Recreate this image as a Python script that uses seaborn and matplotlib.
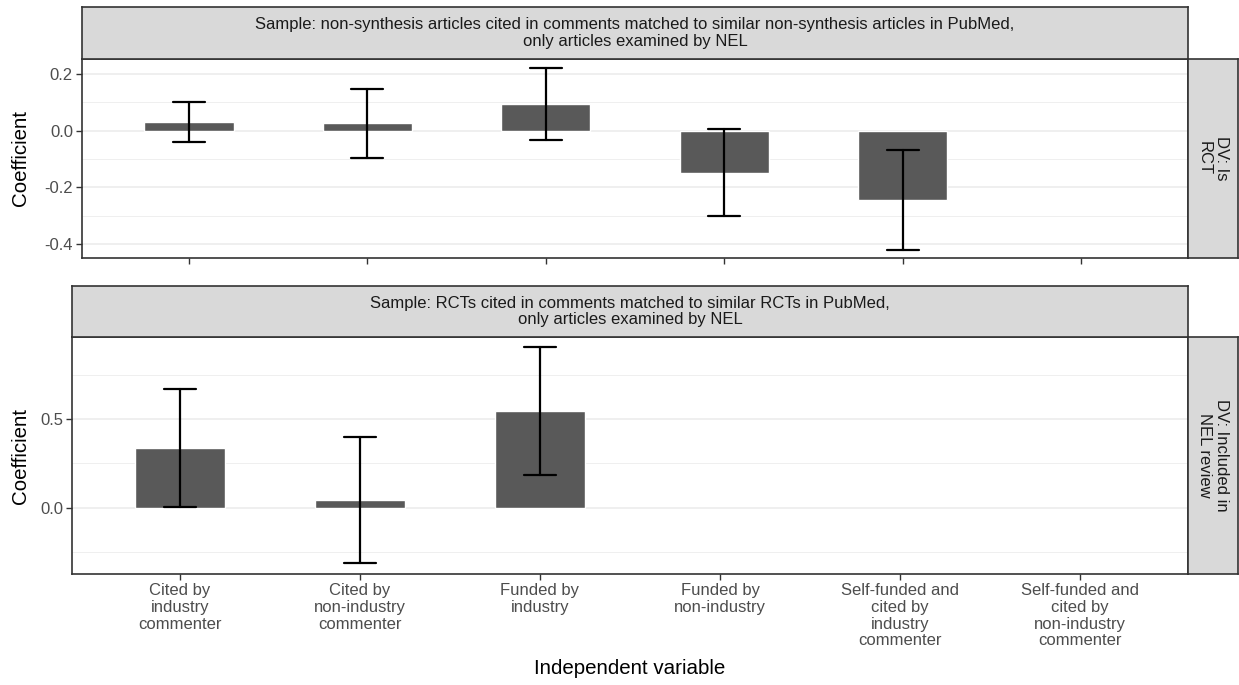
import numpy as np
import pandas as pd
import matplotlib
matplotlib.use("Agg")
import matplotlib.pyplot as plt
import seaborn as sns

# ---------------- data ----------------
categories = [
    "Cited by\nindustry\ncommenter",
    "Cited by\nnon-industry\ncommenter",
    "Funded by\nindustry",
    "Funded by\nnon-industry",
    "Self-funded and\ncited by\nindustry\ncommenter",
    "Self-funded and\ncited by\nnon-industry\ncommenter",
]

# Panel 1: DV = Is RCT
rct_cats = categories[:5]
rct_coef = [0.031, 0.027, 0.094, -0.148, -0.243]
rct_lo = [-0.039, -0.096, -0.034, -0.300, -0.420]
rct_hi = [0.100, 0.148, 0.220, 0.006, -0.067]

# Panel 2: DV = Included in NEL review
nel_cats = categories[:3]
nel_coef = [0.337, 0.042, 0.545]
nel_lo = [0.006, -0.314, 0.184]
nel_hi = [0.668, 0.397, 0.906]

top_strip = ("Sample: non-synthesis articles cited in comments matched to similar non-synthesis articles in PubMed,\n"
             "only articles examined by NEL")
bot_strip = ("Sample: RCTs cited in comments matched to similar RCTs in PubMed,\n"
             "only articles examined by NEL")
top_right = "DV: Is\nRCT"
bot_right = "DV: Included in\nNEL review"

top_ylim = (-0.448, 0.252)
top_major = [-0.4, -0.2, 0.0, 0.2]
top_minor = [-0.3, -0.1, 0.1]
bot_ylim = (-0.374, 0.964)
bot_major = [0.0, 0.5]
bot_minor = [-0.25, 0.25, 0.75]

# ---------------- style ----------------
sns.set_theme(style="white")
plt.rcParams["font.family"] = ["Liberation Sans", "DejaVu Sans"]

W, H = 1239, 685
fig = plt.figure(figsize=(W / 100, H / 100), dpi=100)


def add_px(x0, x1, y0, y1):
    return fig.add_axes([x0 / W, 1 - y1 / H, (x1 - x0) / W, (y1 - y0) / H])


BAR = "#595959"
EDGE = "#333333"
STRIP = "#D9D9D9"
GRID = "#EBEBEB"
FS = 12
TITLE_FS = 14.8


def long_frame(cats, lo, est, hi):
    rows = []
    for c, a, b, d in zip(cats, lo, est, hi):
        for v in (a, b, d):
            rows.append({"cat": c, "val": v})
    return pd.DataFrame(rows)


def draw_panel(ax, df, ylim, major, minor, show_xlabels):
    ax.set_ylim(*ylim)
    for y in major:
        ax.axhline(y, color=GRID, lw=1.1, zorder=0)
    for y in minor:
        ax.axhline(y, color=GRID, lw=0.55, zorder=0)
    sns.barplot(data=df, x="cat", y="val", order=categories,
                estimator="median", errorbar=lambda v: (np.min(v), np.max(v)),
                color=BAR, saturation=1, width=0.5, capsize=0.18,
                err_kws={"color": "black", "linewidth": 1.6}, ax=ax, zorder=2)
    ax.set_xlim(-0.6, len(categories) - 0.4)
    ax.set_ylim(*ylim)
    ax.set_yticks(major)
    ax.set_yticklabels([f"{v:.1f}" for v in major])
    ax.set_xlabel("")
    ax.set_ylabel("")
    ax.tick_params(axis="both", length=4, width=1, color=EDGE, colors="#4D4D4D",
                   labelsize=FS, direction="out", pad=2.5)
    ax.tick_params(axis="x", bottom=True)
    ax.tick_params(axis="y", left=True)
    if show_xlabels:
        ax.set_xticklabels(categories, fontsize=FS, color="#4D4D4D", linespacing=1.15)
    else:
        ax.set_xticklabels([])
    for s in ax.spines.values():
        s.set_color(EDGE)
        s.set_linewidth(1.2)
    ax.grid(False)


def strip(ax, text, rotation=0):
    ax.set_facecolor(STRIP)
    ax.set_xticks([])
    ax.set_yticks([])
    for s in ax.spines.values():
        s.set_color(EDGE)
        s.set_linewidth(1.2)
    ax.text(0.5, 0.5, text, ha="center", va="center", rotation=rotation,
            fontsize=FS, color="#1A1A1A", transform=ax.transAxes,
            linespacing=1.15)


# top facet
ax1 = add_px(82, 1188, 59, 258)
draw_panel(ax1, long_frame(rct_cats, rct_lo, rct_coef, rct_hi),
           top_ylim, top_major, top_minor, show_xlabels=False)
strip(add_px(82, 1188, 7, 59), top_strip)
strip(add_px(1188, 1238, 59, 258), top_right, rotation=-90)

# bottom facet
ax2 = add_px(72, 1188, 337, 574)
draw_panel(ax2, long_frame(nel_cats, nel_lo, nel_coef, nel_hi),
           bot_ylim, bot_major, bot_minor, show_xlabels=True)
strip(add_px(72, 1188, 286, 337), bot_strip)
strip(add_px(1188, 1238, 337, 574), bot_right, rotation=-90)

# axis titles
fig.text(630 / W, 1 - 668 / H, "Independent variable", ha="center", va="center",
         fontsize=TITLE_FS, color="black")
fig.text(21 / W, 1 - 158.5 / H, "Coefficient", ha="center", va="center",
         rotation=90, fontsize=TITLE_FS, color="black")
fig.text(21 / W, 1 - 455.5 / H, "Coefficient", ha="center", va="center",
         rotation=90, fontsize=TITLE_FS, color="black")

fig.savefig("out.png", dpi=100, facecolor="white")
